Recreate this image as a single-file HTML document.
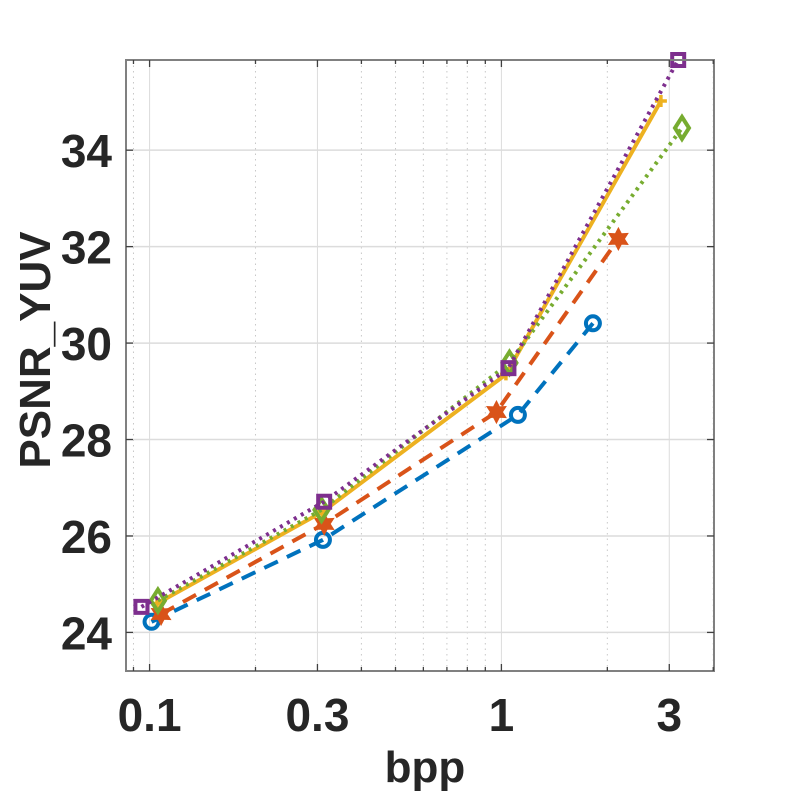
<!DOCTYPE html>
<html><head><meta charset="utf-8"><style>
body{margin:0;background:#fff}
svg text{font-family:"Liberation Sans",Arial,sans-serif;font-weight:bold;fill:#262626}
</style></head><body>
<svg id="chart" width="800" height="800" viewBox="0 0 800 800" xmlns="http://www.w3.org/2000/svg">
<rect width="800" height="800" fill="#fff"/>
<g id="grid"></g>
<g id="series"></g>
<rect x="126" y="60" width="588" height="611" fill="none" stroke="#808080" stroke-width="2"/>
<g id="ticks"></g>
<text x="425" y="782" font-size="44" text-anchor="middle">bpp</text>
<text transform="translate(50,350) rotate(-90)" font-size="44" text-anchor="middle">PSNR_YUV</text>
</svg>
<script>
const xTicks=[0.1,0.3,1,3];
const xTickLabels=["0.1","0.3","1","3"];
const yTicks=[24,26,28,30,32,34];
const yTickLabels=["24","26","28","30","32","34"];
const blueX=[0.1013,0.311,1.114,1.82];
const blueY=[24.22,25.92,28.51,30.41];
const redX=[0.1078,0.3135,0.968,2.15];
const redY=[24.38,26.25,28.57,32.16];
const yellowX=[0.105,0.31,1.03,2.84];
const yellowY=[24.6,26.5,29.35,35.02];
const greenX=[0.1056,0.308,1.054,3.26];
const greenY=[24.66,26.54,29.59,34.46];
const purpleX=[0.0948,0.3135,1.047,3.18];
const purpleY=[24.53,26.71,29.48,35.87];

const L=126,R=714,T=60,B=671;
const xMin=Math.log10(0.0857),xMax=Math.log10(4.02),yMin=23.2,yMax=35.87;
const sx=v=>L+(Math.log10(v)-xMin)/(xMax-xMin)*(R-L);
const sy=v=>B-(v-yMin)/(yMax-yMin)*(B-T);
const NS="http://www.w3.org/2000/svg";
function mk(tag,attrs,parent){const e=document.createElementNS(NS,tag);for(const k in attrs)e.setAttribute(k,attrs[k]);parent.appendChild(e);return e;}
const grid=document.getElementById('grid'),ticks=document.getElementById('ticks'),ser=document.getElementById('series');
for(let d=-2;d<=1;d++)for(let m=1;m<10;m++){const v=m*Math.pow(10,d);const lv=Math.log10(v);if(lv<xMin||lv>xMax)continue;
 const x=sx(v);const major=xTicks.includes(+v.toPrecision(3));
 const ln=mk('line',{x1:x,x2:x,y1:T,y2:B,stroke:major?'#dcdcdc':'#c8c8c8','stroke-width':1,'stroke-dasharray':major?'':'1.5,4'},grid);
 
 
 const t1=mk('line',{x1:x,x2:x,y1:B,y2:B-(major?7:4),stroke:'#404040','stroke-width':1.3},ticks);
 
 
 const t2=mk('line',{x1:x,x2:x,y1:T,y2:T+(major?7:4),stroke:'#404040','stroke-width':1.3},ticks);
 
 }
xTicks.forEach((v,i)=>{const t=mk('text',{x:sx(v),y:731,'font-size':46,'text-anchor':'middle'},ticks);t.textContent=xTickLabels[i];
 
 });
yTicks.forEach((v,i)=>{const y=sy(v);
 const g=mk('line',{x1:L,x2:R,y1:y,y2:y,stroke:'#dcdcdc','stroke-width':1.5},grid);
 
 
 const a=mk('line',{x1:L,x2:L+7,y1:y,y2:y,stroke:'#404040','stroke-width':1.3},ticks);
 
 
 const b=mk('line',{x1:R,x2:R-7,y1:y,y2:y,stroke:'#404040','stroke-width':1.3},ticks);
 
 
 const t=mk('text',{x:112,y:y+17,'font-size':46,'text-anchor':'end'},ticks);t.textContent=yTickLabels[i];
 
 });
function series(xs,ys,color,dash,name,marker){
 const g=mk('g',{},ser);
 
 
 const pts=xs.map((v,i)=>sx(v)+','+sy(ys[i])).join(' ');
 const pl=mk('polyline',{points:pts,fill:'none',stroke:color,'stroke-width':4,'stroke-dasharray':dash},g);
 
 
 xs.forEach((v,i)=>{const x=sx(v),y=sy(ys[i]);let m;
  if(marker==='o')m=mk('circle',{cx:x,cy:y,r:7,fill:'none',stroke:color,'stroke-width':4},g);
  else if(marker==='s')m=mk('rect',{x:x-6,y:y-6,width:12,height:12,fill:'none',stroke:color,'stroke-width':4},g);
  else if(marker==='d')m=mk('polygon',{points:`${x},${y-11} ${x+7},${y} ${x},${y+11} ${x-7},${y}`,fill:'none',stroke:color,'stroke-width':4},g);
  else if(marker==='h'){const p=[];for(let k=0;k<12;k++){const r=k%2?6:11;const a=-Math.PI/2+k*Math.PI/6;p.push((x+r*Math.cos(a))+','+(y+r*Math.sin(a)));}
   m=mk('polygon',{points:p.join(' '),fill:color,stroke:color,'stroke-width':1},g);}
  else m=mk('path',{d:`M${x-6},${y}H${x+6}M${x},${y-6}V${y+6}`,stroke:color,'stroke-width':3.5},g);
  
  });
}
series(blueX,blueY,'#0072BD','15,10','series-blue','o');
series(redX,redY,'#D95319','15,10','series-red','h');
series(yellowX,yellowY,'#EDB120','','series-yellow','+');
series(greenX,greenY,'#77AC30','3,5','series-green','d');
series(purpleX,purpleY,'#7E2F8E','3,5','series-purple','s');
</script>
</body></html>
